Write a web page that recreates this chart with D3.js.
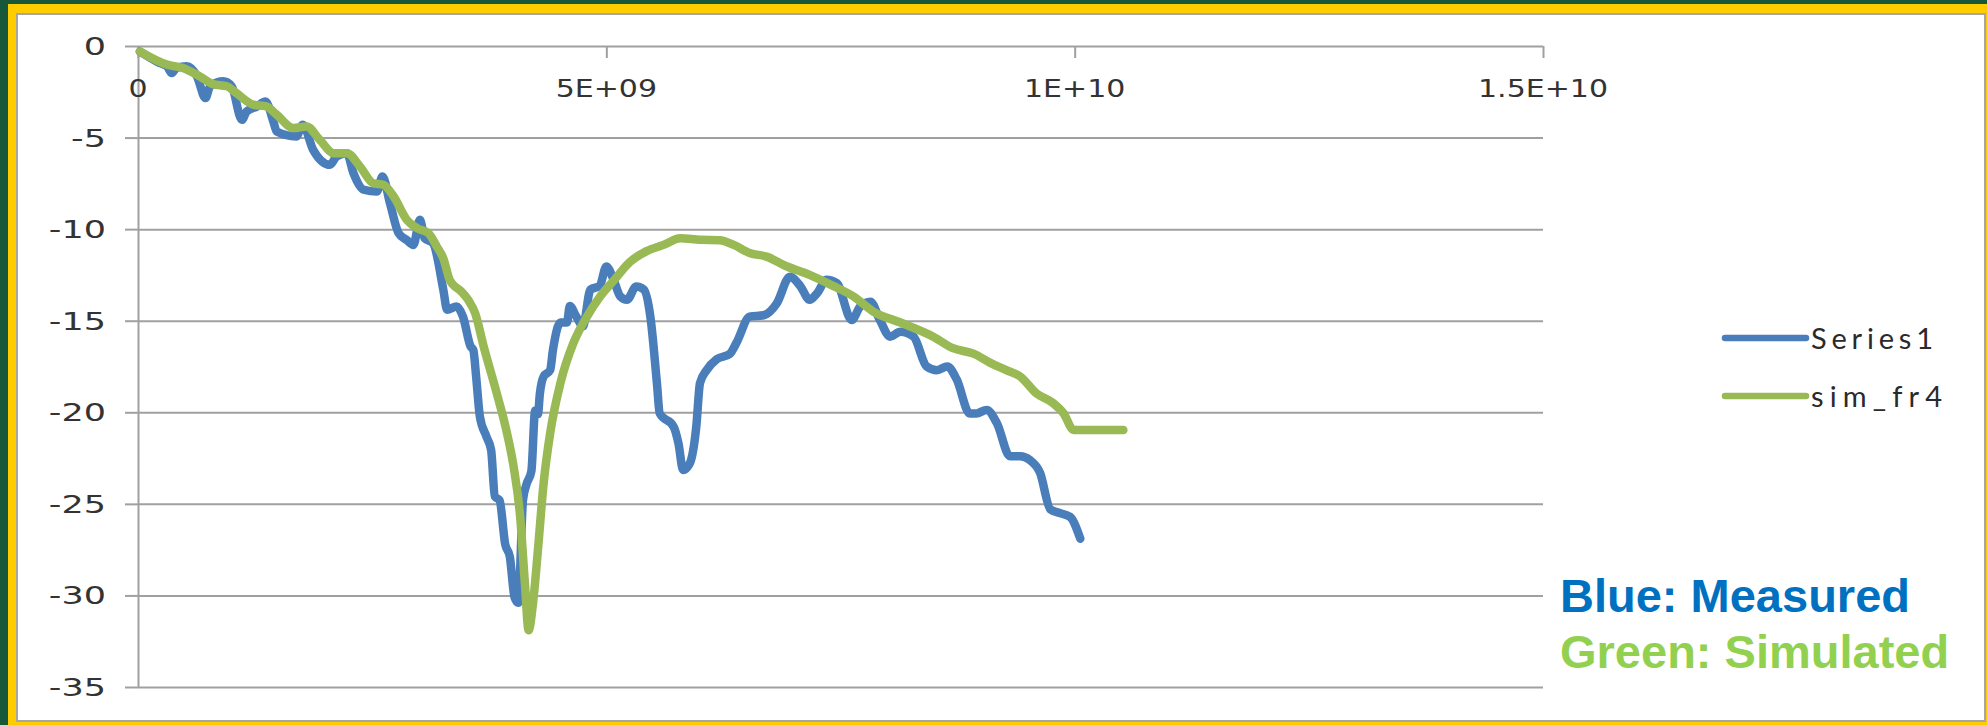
<!DOCTYPE html>
<html>
<head>
<meta charset="utf-8">
<script src="https://cdn.jsdelivr.net/npm/d3@7"></script>
<style>
  html, body { margin: 0; padding: 0; background: #17573a; }
  svg { display: block; }
</style>
</head>
<body>
<svg id="chart" width="1987" height="725"></svg>
<script>
// Frequency in GHz, insertion loss in dB
const measuredFreq = [0.02, 0.23, 0.31, 0.36, 0.41, 0.52, 0.63, 0.72, 0.77, 0.91, 1.00, 1.11, 1.16, 1.27, 1.36, 1.45, 1.48, 1.69, 1.76, 1.87,
  2.05, 2.12, 2.23, 2.30, 2.41, 2.55, 2.61, 2.69, 2.78, 2.87, 2.94, 3.01, 3.06, 3.15, 3.26, 3.30, 3.40, 3.47, 3.55, 3.58,
  3.61, 3.65, 3.72, 3.77, 3.81, 3.86, 3.92, 3.97, 4.02, 4.06, 4.11, 4.15, 4.20, 4.24, 4.27, 4.29, 4.33, 4.40, 4.43, 4.51,
  4.58, 4.61, 4.68, 4.75, 4.83, 4.93, 5.00, 5.08, 5.15, 5.22, 5.32, 5.40, 5.47, 5.54, 5.57, 5.72, 5.77, 5.82, 5.89, 5.96,
  6.00, 6.07, 6.18, 6.32, 6.39, 6.53, 6.68, 6.82, 6.96, 7.07, 7.17, 7.25, 7.35, 7.46, 7.62, 7.71, 7.82, 7.92, 8.03, 8.14,
  8.28, 8.42, 8.53, 8.64, 8.74, 8.88, 8.95, 9.06, 9.17, 9.31, 9.42, 9.52, 9.63, 9.74, 9.84, 9.95, 10.06];
const measuredDb = [-0.3, -0.93, -1.11, -1.48, -1.2, -1.11, -1.66, -2.84, -2.2, -1.93, -2.2, -4.03, -3.57, -3.3, -3.03, -4.21, -4.67, -4.94, -4.3, -5.67,
  -6.49, -6.03, -5.85, -6.94, -7.85, -7.95, -7.13, -8.58, -10.2, -10.6, -10.86, -9.49, -10.5, -10.77, -13.32, -14.4, -14.23, -14.78, -16.4, -16.6,
  -18.05, -20.24, -21.33, -22.06, -24.6, -24.8, -27.2, -27.9, -30.1, -30.4, -24.8, -23.9, -23.2, -19.9, -20.1, -19.0, -18.05, -17.7, -16.6, -15.1,
  -15.1, -14.2, -14.78, -15.3, -13.3, -13.1, -12.04, -12.8, -13.68, -13.86, -13.13, -13.3, -14.78, -18.4, -20.06, -20.8, -21.7, -23.15, -22.8, -20.8,
  -18.4, -17.7, -17.1, -16.8, -16.2, -14.78, -14.7, -14.05, -12.6, -13.1, -13.86, -13.5, -12.77, -12.95, -14.96, -14.23, -13.96, -14.96, -15.87, -15.6,
  -15.87, -17.5, -17.7, -17.5, -18.2, -20.06, -20.06, -19.87, -20.6, -22.4, -22.4, -22.6, -23.3, -25.3, -25.5, -25.7, -26.9];

const simFreq = [0.02, 0.31, 0.48, 0.66, 0.80, 0.95, 1.05, 1.23, 1.37, 1.48, 1.66, 1.80, 1.94, 2.09, 2.23, 2.37, 2.51, 2.62, 2.73, 2.87,
  2.98, 3.10, 3.19, 3.26, 3.33, 3.45, 3.53, 3.60, 3.69, 3.83, 3.94, 4.01, 4.08, 4.13, 4.17, 4.22, 4.27, 4.33, 4.40, 4.51,
  4.65, 4.79, 4.93, 5.08, 5.25, 5.43, 5.61, 5.79, 6.00, 6.21, 6.36, 6.53, 6.71, 6.93, 7.17, 7.42, 7.64, 7.85, 8.14, 8.49,
  8.70, 8.92, 9.10, 9.27, 9.42, 9.59, 9.77, 9.88, 9.99, 10.52];
const simDb = [-0.3, -1.02, -1.2, -1.66, -2.08, -2.2, -2.57, -3.2, -3.3, -3.75, -4.48, -4.39, -5.12, -5.85, -5.85, -6.58, -7.49, -7.58, -8.22, -9.49,
  -9.95, -10.22, -10.95, -11.6, -12.8, -13.4, -13.9, -14.6, -16.4, -18.96, -21.15, -22.97, -25.7, -29.3, -31.9, -30.3, -27.5, -23.9, -21.15, -18.4,
  -16.2, -14.8, -13.7, -12.8, -11.8, -11.2, -10.86, -10.5, -10.58, -10.6, -10.86, -11.3, -11.5, -12.04, -12.5, -13.1, -13.68, -14.5, -15.1, -15.87,
  -16.5, -16.8, -17.3, -17.7, -18.05, -18.96, -19.5, -20.05, -20.97, -20.97];

const xTickValues = [0, 5e9, 1e10, 1.5e10];
const xTickLabels = ["0", "5E+09", "1E+10", "1.5E+10"];
const yTickValues = [0, -5, -10, -15, -20, -25, -30, -35];
const yTickLabels = ["0", "-5", "-10", "-15", "-20", "-25", "-30", "-35"];

const seriesNames = ["Series1", "sim_fr4"];
const seriesColors = ["#4a7ebb", "#98b954"];
const noteLines = ["Blue: Measured", "Green: Simulated"];
const noteColors = ["#0070c0", "#92d050"];

const svg = d3.select("#chart");

// Frame: yellow border around a white chart panel
svg.append("rect").attr("x", 0).attr("y", 0).attr("width", 1987).attr("height", 725).attr("fill", "#17573a");
svg.append("rect").attr("x", 8).attr("y", 4).attr("width", 1990).attr("height", 730).attr("fill", "#ffcc00");
svg.append("rect").attr("x", 17).attr("y", 14).attr("width", 1968).attr("height", 707)
  .attr("fill", "#ffffff").attr("stroke", "#a6a6a6").attr("stroke-width", 2);

const x = d3.scaleLinear().domain([0, 1.5e10]).range([138, 1543]);
const y = d3.scaleLinear().domain([-35, 0]).range([687, 46]);

const gridColor = "#a0a0a0";

// Horizontal gridlines (the 0 line doubles as the x axis)
svg.append("g").attr("transform", `translate(${x(0)},0)`)
  .call(d3.axisLeft(y).tickValues(yTickValues).tickSize(-(x(1.5e10) - x(0))).tickFormat(""))
  .call(g => g.select(".domain").remove())
  .call(g => g.selectAll("line").attr("stroke", gridColor).attr("stroke-width", 2));

// Y axis outer ticks and axis line
svg.append("g").attr("transform", `translate(${x(0)},0)`)
  .call(d3.axisLeft(y).tickValues(yTickValues).tickSize(13).tickSizeOuter(0).tickFormat(""))
  .call(g => g.select(".domain").attr("stroke", gridColor).attr("stroke-width", 2))
  .call(g => g.selectAll("line").attr("stroke", gridColor).attr("stroke-width", 2));

// X axis ticks hanging below the 0 line
svg.append("g").attr("transform", `translate(0,${y(0)})`)
  .call(d3.axisBottom(x).tickValues(xTickValues).tickSize(12).tickSizeOuter(0).tickFormat(""))
  .call(g => g.select(".domain").remove())
  .call(g => g.selectAll("line").attr("stroke", gridColor).attr("stroke-width", 2));

const labelFont = "DejaVu Sans";
const labelSize = 25;

svg.append("g").selectAll("text").data(yTickValues).join("text")
  .attr("transform", d => `translate(106,${y(d) + 9}) scale(1.4,1)`)
  .attr("text-anchor", "end")
  .attr("font-family", labelFont).attr("font-size", labelSize).attr("fill", "#333")
  .text((d, i) => yTickLabels[i]);

svg.append("g").selectAll("text").data(xTickValues).join("text")
  .attr("transform", d => `translate(${x(d)},${y(0) + 51}) scale(1.2,1)`)
  .attr("text-anchor", "middle")
  .attr("font-family", labelFont).attr("font-size", labelSize).attr("fill", "#333")
  .text((d, i) => xTickLabels[i]);

// Series
const measured = measuredFreq.map((f, i) => ({ f: f * 1e9, v: measuredDb[i] }));
const simulated = simFreq.map((f, i) => ({ f: f * 1e9, v: simDb[i] }));

const line = d3.line().x(d => x(d.f)).y(d => y(d.v)).curve(d3.curveMonotoneX);

[measured, simulated].forEach((data, i) => {
  svg.append("path").datum(data)
    .attr("d", line)
    .attr("fill", "none")
    .attr("stroke", seriesColors[i])
    .attr("stroke-width", 8.5)
    .attr("stroke-linejoin", "round")
    .attr("stroke-linecap", "round");
});

// Legend
const legend = svg.append("g");
const legendRows = [338, 396];
seriesNames.forEach((name, i) => {
  legend.append("line")
    .attr("x1", 1725).attr("x2", 1806)
    .attr("y1", legendRows[i]).attr("y2", legendRows[i])
    .attr("stroke", seriesColors[i]).attr("stroke-width", 6.5).attr("stroke-linecap", "round");
  legend.append("text")
    .attr("x", 1811).attr("y", legendRows[i] + 11)
    .attr("font-family", "Lato").attr("font-size", 29).attr("fill", "#2a2a2a")
    .attr("textLength", i === 0 ? 122 : 131).attr("lengthAdjust", "spacing")
    .text(name);
});

// Colour key notes
noteLines.forEach((t, i) => {
  svg.append("text")
    .attr("x", 1560).attr("y", 612 + i * 56)
    .attr("font-family", "Liberation Sans, Arial, sans-serif")
    .attr("font-weight", "bold").attr("font-size", 47)
    .attr("fill", noteColors[i])
    .text(t);
});
</script>
</body>
</html>
